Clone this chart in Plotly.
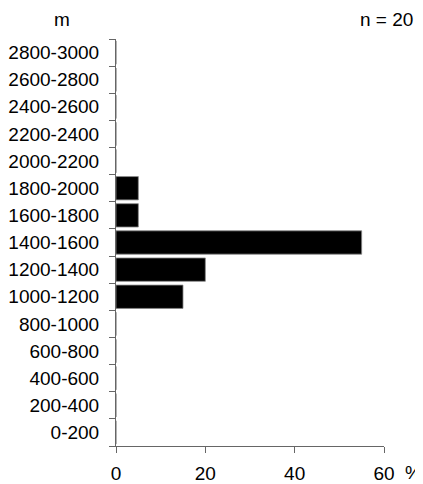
import plotly.graph_objects as go

categories = ["0-200", "200-400", "400-600", "600-800", "800-1000", "1000-1200",
              "1200-1400", "1400-1600", "1600-1800", "1800-2000", "2000-2200",
              "2200-2400", "2400-2600", "2600-2800", "2800-3000"]
percent = [0, 0, 0, 0, 0, 15, 20, 55, 5, 5, 0, 0, 0, 0, 0]
x_ticks = [0, 20, 40, 60]
unit_label = "m"
n_label = "n = 20"
pct_label = "%"

FONT = "Liberation Sans, Arial, sans-serif"
FS = 19
OFF = 8  # page body margin offset
W, H = 423 - OFF, 484 - OFF
L, R, T, B = 116 - OFF, 39, 39 - OFF, 38
pw, ph = W - L - R, H - T - B


def px_x(sx):
    return (sx - OFF - L) / pw


def px_y(sy):
    return (H - B - (sy - OFF)) / ph


fig = go.Figure(go.Bar(
    x=percent, y=categories, orientation="h",
    marker=dict(color="black", line=dict(color="#888888", width=0.8)),
))
fig.update_layout(
    width=W, height=H, margin=dict(l=L, r=R, t=T, b=B, autoexpand=False),
    paper_bgcolor="white", plot_bgcolor="white",
    bargap=0.14, showlegend=False,
    font=dict(family=FONT, size=FS, color="black"),
)
fig.update_xaxes(
    range=[0, 60], tickvals=x_ticks, ticks="outside", ticklen=6,
    tickcolor="#666666", showline=True, linecolor="#666666", linewidth=1,
    showgrid=False, zeroline=False, ticklabelstandoff=4, automargin=False,
    tickfont=dict(family=FONT, size=FS, color="black"),
)
fig.update_yaxes(
    type="category", categoryorder="array", categoryarray=categories,
    range=[-0.5, len(categories) - 0.5],
    tickson="boundaries", ticks="outside", ticklen=6, tickcolor="#666666",
    showline=True, linecolor="#666666", linewidth=1, showgrid=False,
    zeroline=False, ticklabelstandoff=12, automargin=False,
    tickfont=dict(family=FONT, size=FS, color="black"),
)
fig.add_annotation(text=unit_label, xref="paper", yref="paper",
                   x=px_x(62), y=px_y(20), showarrow=False,
                   xanchor="center", yanchor="middle",
                   font=dict(family=FONT, size=FS, color="black"))
fig.add_annotation(text=n_label, xref="paper", yref="paper",
                   x=px_x(415), y=px_y(20), showarrow=False,
                   xanchor="right", yanchor="middle",
                   font=dict(family=FONT, size=FS, color="black"))
fig.add_annotation(text=pct_label, xref="paper", yref="paper",
                   x=px_x(413), y=px_y(472), showarrow=False,
                   xanchor="center", yanchor="middle",
                   font=dict(family=FONT, size=FS, color="black"))
fig.write_html("out.html")
